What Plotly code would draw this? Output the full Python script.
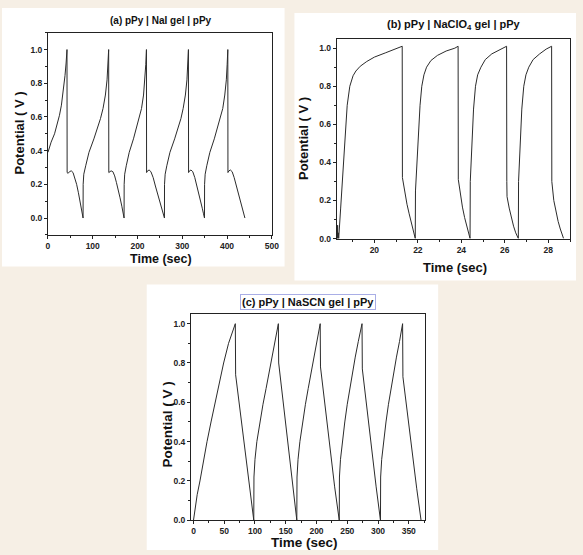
import plotly.graph_objects as go

W, H = 583, 555

# ---------------- data ----------------
# (a) pPy | NaI gel | pPy
time_a = [0, 7, 14.7, 20, 25.7, 30, 33, 36, 38, 40.5, 42.5,
          42.8, 45, 48, 52, 56, 60, 64, 68, 72, 75.5, 78.4,
          78.6, 80, 84.3, 91.6, 102.6, 110, 117.3, 123, 128.3, 132, 134, 135.6,
          135.9, 138, 141, 145, 149, 153, 157, 161, 165, 168, 170,
          170.2, 171.4, 174.9, 181.5, 191, 197.5, 204, 209, 213.5, 216.8, 218.5, 220,
          220.3, 222.5, 226, 230, 235, 240, 245, 250, 255, 258, 260.2,
          260.4, 261.8, 265.5, 272.5, 283, 290, 297, 302, 307, 310.5, 312.3, 313.8,
          314.1, 316.3, 319.5, 323.5, 328, 332, 337, 341, 345, 347.5, 349.7,
          349.9, 351.2, 354.8, 361.7, 371.6, 378.4, 385, 390.5, 395, 398.5, 400.3, 401.8,
          402.1, 404.3, 407.5, 411.5, 416, 420, 425, 429, 434, 437.5, 440]
volt_a = [0.39, 0.45, 0.50, 0.55, 0.61, 0.67, 0.73, 0.79, 0.845, 0.92, 1.0,
          0.27, 0.265, 0.275, 0.28, 0.27, 0.24, 0.20, 0.15, 0.10, 0.05, 0.0,
          0.2, 0.26, 0.31, 0.39, 0.47, 0.53, 0.59, 0.65, 0.73, 0.82, 0.91, 1.0,
          0.27, 0.275, 0.28, 0.275, 0.25, 0.21, 0.17, 0.12, 0.07, 0.03, 0.0,
          0.2, 0.26, 0.31, 0.39, 0.47, 0.53, 0.59, 0.65, 0.73, 0.82, 0.91, 1.0,
          0.27, 0.28, 0.285, 0.275, 0.24, 0.19, 0.14, 0.09, 0.045, 0.015, 0.0,
          0.2, 0.26, 0.31, 0.39, 0.47, 0.53, 0.59, 0.65, 0.73, 0.82, 0.91, 1.0,
          0.27, 0.28, 0.285, 0.275, 0.24, 0.20, 0.15, 0.10, 0.055, 0.025, 0.0,
          0.2, 0.26, 0.31, 0.39, 0.47, 0.53, 0.59, 0.65, 0.73, 0.82, 0.91, 1.0,
          0.27, 0.28, 0.285, 0.275, 0.24, 0.20, 0.15, 0.10, 0.05, 0.02, 0.0]

# (b) pPy | NaClO4 gel | pPy
time_b = [18.30, 18.31, 18.32, 18.34, 18.36,
          18.45, 18.55, 18.65, 18.75, 18.87, 19.02, 19.15, 19.35, 19.65, 20.0, 20.5, 21.0, 21.28,
          21.29, 21.4, 21.5, 21.6, 21.7, 21.8, 21.88,
          21.89, 21.95, 22.02, 22.1, 22.18, 22.28, 22.4, 22.6, 22.9, 23.3, 23.7, 23.85,
          23.86, 23.95, 24.05, 24.15, 24.25, 24.35, 24.4,
          24.41, 24.48, 24.56, 24.65, 24.75, 24.9, 25.1, 25.4, 25.8, 26.08,
          26.09, 26.1, 26.2, 26.3, 26.4, 26.5, 26.62,
          26.63, 26.7, 26.78, 26.87, 26.97, 27.1, 27.3, 27.6, 27.9, 28.15,
          28.16, 28.25, 28.35, 28.45, 28.55, 28.65, 28.7]
volt_b = [0.0, 0.07, 0.0, 0.03, 0.0,
          0.16, 0.36, 0.55, 0.70, 0.80, 0.855, 0.88, 0.905, 0.93, 0.953, 0.975, 0.995, 1.01,
          0.32, 0.24, 0.18, 0.13, 0.08, 0.035, 0.0,
          0.25, 0.40, 0.55, 0.70, 0.80, 0.86, 0.90, 0.935, 0.962, 0.985, 1.0, 1.01,
          0.31, 0.23, 0.165, 0.11, 0.065, 0.02, 0.0,
          0.30, 0.50, 0.68, 0.80, 0.86, 0.90, 0.94, 0.97, 0.995, 1.01,
          0.30, 0.22, 0.16, 0.11, 0.065, 0.03, 0.0,
          0.30, 0.50, 0.68, 0.80, 0.86, 0.90, 0.94, 0.97, 0.995, 1.01,
          0.30, 0.20, 0.14, 0.09, 0.05, 0.015, 0.0]

# (c) pPy | NaSCN gel | pPy
time_c = [0, 3, 6, 10.5, 16, 22, 28.5, 35, 42, 49, 57, 68,
          68.5, 76, 84, 91, 98,
          98.3, 100, 103, 108, 113, 118, 123, 128, 133, 138,
          138.5, 146, 154, 161, 168,
          168.3, 170, 173, 177.5, 182, 186.5, 191, 196, 201, 206,
          206.5, 214, 222, 229.5, 237,
          237.3, 239, 242, 246, 250, 254, 258.5, 263, 268, 274,
          274.5, 282, 290, 297, 304,
          304.3, 306, 309, 313, 317, 321, 325.5, 330, 335, 340,
          340.5, 348, 356, 363, 370]
volt_c = [0.0, 0.07, 0.13, 0.2, 0.3, 0.4, 0.5, 0.6, 0.7, 0.8, 0.9, 1.0,
          0.74, 0.55, 0.35, 0.17, 0.0,
          0.22, 0.31, 0.40, 0.50, 0.59, 0.67, 0.75, 0.83, 0.91, 1.0,
          0.80, 0.59, 0.37, 0.18, 0.0,
          0.22, 0.31, 0.40, 0.50, 0.59, 0.67, 0.75, 0.83, 0.91, 1.0,
          0.78, 0.57, 0.36, 0.17, 0.0,
          0.22, 0.31, 0.40, 0.50, 0.59, 0.67, 0.75, 0.83, 0.91, 1.0,
          0.77, 0.56, 0.35, 0.17, 0.0,
          0.22, 0.31, 0.40, 0.50, 0.59, 0.67, 0.75, 0.83, 0.91, 1.0,
          0.73, 0.53, 0.33, 0.16, 0.0]

titles = ["(a) pPy | NaI gel | pPy",
          "(b) pPy | NaClO<sub>4</sub> gel | pPy",
          "(c) pPy | NaSCN gel | pPy"]
x_title = "Time (sec)"
y_title = "Potential ( V )"

# ---------------- layout helpers ----------------
def px(x):
    return x / W

def py(y):
    return 1 - y / H

FONT = "Liberation Sans, Arial, sans-serif"
LINE = "#2b2b2b"

fig = go.Figure()
fig.add_trace(go.Scatter(x=time_a, y=volt_a, mode="lines", line=dict(color=LINE, width=1),
                         xaxis="x", yaxis="y", showlegend=False))
fig.add_trace(go.Scatter(x=time_b, y=volt_b, mode="lines", line=dict(color=LINE, width=1),
                         xaxis="x2", yaxis="y2", showlegend=False))
fig.add_trace(go.Scatter(x=time_c, y=volt_c, mode="lines", line=dict(color=LINE, width=1),
                         xaxis="x3", yaxis="y3", showlegend=False))

tickfont = dict(family=FONT, size=8.5, color="#222", weight="bold")

def axis(dom, rng, dtick, minor, fmt=None, anchor=None):
    d = dict(domain=dom, range=rng, dtick=dtick, tick0=0,
             showline=True, linecolor="#222", linewidth=1, mirror=True,
             ticks="outside", ticklen=3, tickwidth=1, tickcolor="#222",
             minor=dict(dtick=minor, ticks="outside", ticklen=2, tickcolor="#222"),
             showgrid=False, zeroline=False, tickfont=tickfont, anchor=anchor)
    if fmt:
        d["tickformat"] = fmt
    return d

# plot-area pixel boxes (left, right, top, bottom)
A = (46.7, 274, 33, 237)
B = (340, 577, 39, 240.7)
C = (192, 430, 316.7, 525)

fig.update_layout(
    width=W, height=H, margin=dict(l=0, r=0, t=0, b=0),
    paper_bgcolor="#f6efe5", plot_bgcolor="white",
    xaxis=axis([px(A[0]), px(A[1])], [0, 500], 100, 50, anchor="y"),
    yaxis=axis([py(A[3]), py(A[2])], [-0.1, 1.1], 0.2, 0.1, ".1f", anchor="x"),
    xaxis2=axis([px(B[0]), px(B[1])], [18.27, 29.0], 2, 1, anchor="y2"),
    yaxis2=axis([py(B[3]), py(B[2])], [0, 1.05], 0.2, 0.1, ".1f", anchor="x2"),
    xaxis3=axis([px(C[0]), px(C[1])], [-4, 377], 50, 25, anchor="y3"),
    yaxis3=axis([py(C[3]), py(C[2])], [0, 1.05], 0.2, 0.1, ".1f", anchor="x3"),
)

# white panel backgrounds
shapes = []
for (x0, x1, y0, y1) in [(0, 287, 8, 269), (297, 583, 13, 283), (147, 443, 287, 555)]:
    shapes.append(dict(type="rect", xref="paper", yref="paper", layer="below",
                       x0=px(x0), x1=px(x1), y0=py(y1), y1=py(y0),
                       fillcolor="white", line=dict(width=0)))
fig.update_layout(shapes=shapes)

ann = []
def text(s, x, y, size, angle=0, **kw):
    ann.append(dict(text=s, x=px(x), y=py(y), xref="paper", yref="paper",
                    showarrow=False, textangle=angle, xanchor="center", yanchor="middle",
                    font=dict(family=FONT, size=size, color="#111", weight="bold"), **kw))

text(titles[0], 162, 21, 10)
text(titles[1], 459, 25, 11)
text(titles[2], 311, 305, 11, bordercolor="#a9aee6", borderwidth=1, borderpad=1)

text(y_title, 18, 134, 13, angle=-90)
text(x_title, 162, 261, 12.5)
text(y_title, 306, 140, 13, angle=-90)
text(x_title, 460, 270, 13)
text(y_title, 168, 428, 13.5, angle=-90)
text(x_title, 307, 547, 13.5)
fig.update_layout(annotations=ann)

fig.write_html("out.html", config={"displayModeBar": False},
               post_script="document.body.style.margin='0';document.body.style.overflow='hidden';")
